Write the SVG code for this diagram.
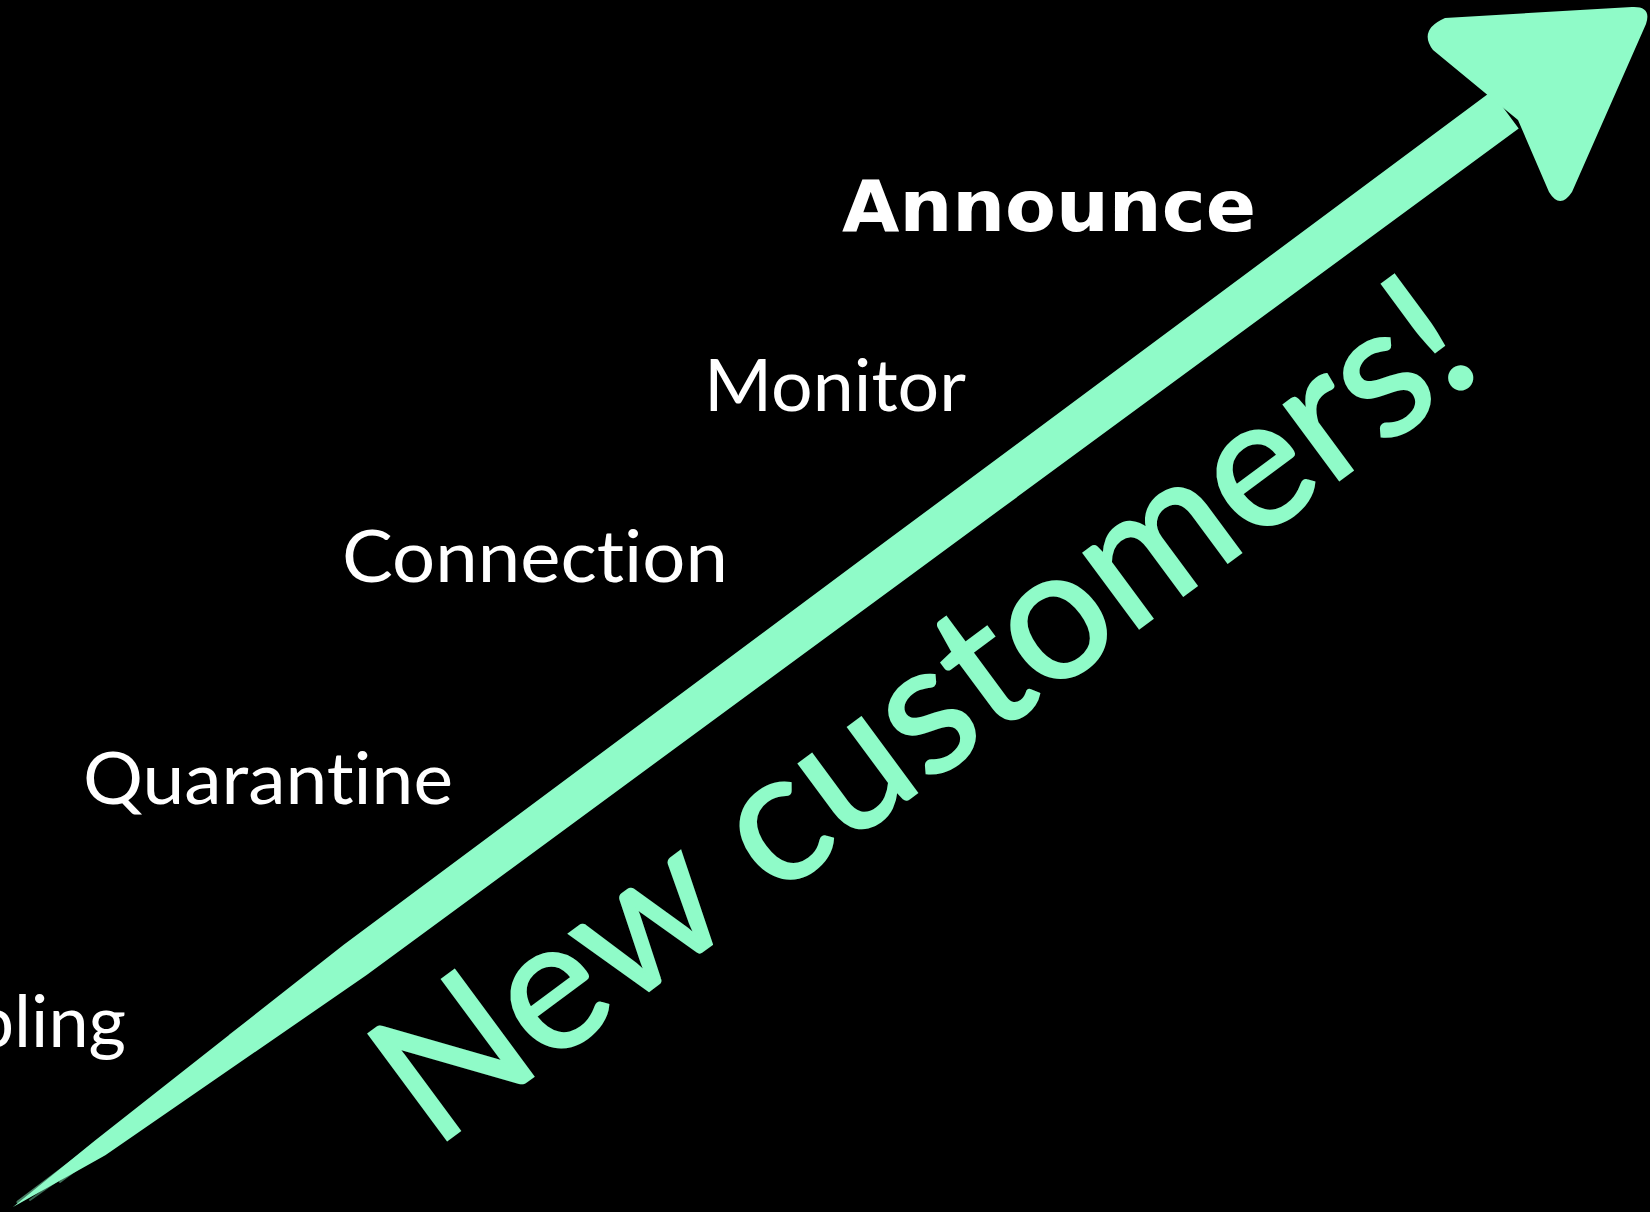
<svg xmlns="http://www.w3.org/2000/svg" width="1650" height="1212" viewBox="0 0 1650 1212">
  <style>
    text { font-variant-ligatures: none; font-feature-settings: "liga" 0, "clig" 0; }
    .lbl { font-family: Lato, "Noto Sans", "DejaVu Sans", sans-serif; font-size: 72px; fill: #ffffff; }
    .bold { font-family: "DejaVu Sans", Verdana, sans-serif; font-weight: bold; font-size: 72px; fill: #ffffff; }
    .big { font-family: Lato, "Noto Sans", "DejaVu Sans", sans-serif; font-size: 185px; fill: #8ffbc8; stroke: #8ffbc8; stroke-width: 2px; }
    .mint { fill: #8ffbc8; }
    .streak { stroke: #8ffbc8; fill: none; stroke-linecap: round; }
  </style>
  <rect x="0" y="0" width="1650" height="1212" fill="#000000"/>

  <g id="connectors">
    <!-- brush streaks near the tail -->
    <path class="streak" d="M18,1202 L300,990" stroke-width="3" opacity="0.5"/>
    <path class="streak" d="M60,1182 L340,975" stroke-width="2" opacity="0.45"/>
    <path class="streak" d="M30,1200 L270,1030" stroke-width="2" opacity="0.4"/>
    <path class="streak" d="M90,1150 L330,968" stroke-width="2" opacity="0.4"/>
    <path class="streak" d="M230,1035 L560,790" stroke-width="2" opacity="0.35"/>
    <path class="streak" d="M560,800 L760,650" stroke-width="2" opacity="0.3"/>
    <!-- shaft -->
    <polygon class="mint" points="13,1207 94.7,1140.8 343.7,944.7 887.5,540.1 1491.3,91.5 1518.7,128.5 912.5,573.9 366.3,975.3 105.3,1155.2"/>
    <!-- head -->
    <path class="mint" d="M1433,50 Q1418,30 1445,18 L1632,7 Q1652,6 1646,24 L1572,192 Q1560,210 1549,192 L1518,120 L1490,97 Z"/>
  </g>

  <g id="node-sampling"><text class="lbl" x="126" y="1047" text-anchor="end">Sampling</text></g>
  <g id="node-quarantine"><text class="lbl" x="83" y="804" textLength="370" lengthAdjust="spacingAndGlyphs">Quarantine</text></g>
  <g id="node-connection"><text class="lbl" x="342" y="582" textLength="386" lengthAdjust="spacingAndGlyphs">Connection</text></g>
  <g id="node-monitor"><text class="lbl" x="704" y="411" textLength="262" lengthAdjust="spacingAndGlyphs">Monitor</text></g>
  <g id="node-announce"><text class="bold" x="842" y="231" textLength="414" lengthAdjust="spacingAndGlyphs">Announce</text></g>

  <g id="node-new-customers">
    <text class="big" transform="translate(445,1142) rotate(-36.5)" x="-14" y="0" textLength="1310" lengthAdjust="spacingAndGlyphs">New customers!</text>
  </g>
</svg>
